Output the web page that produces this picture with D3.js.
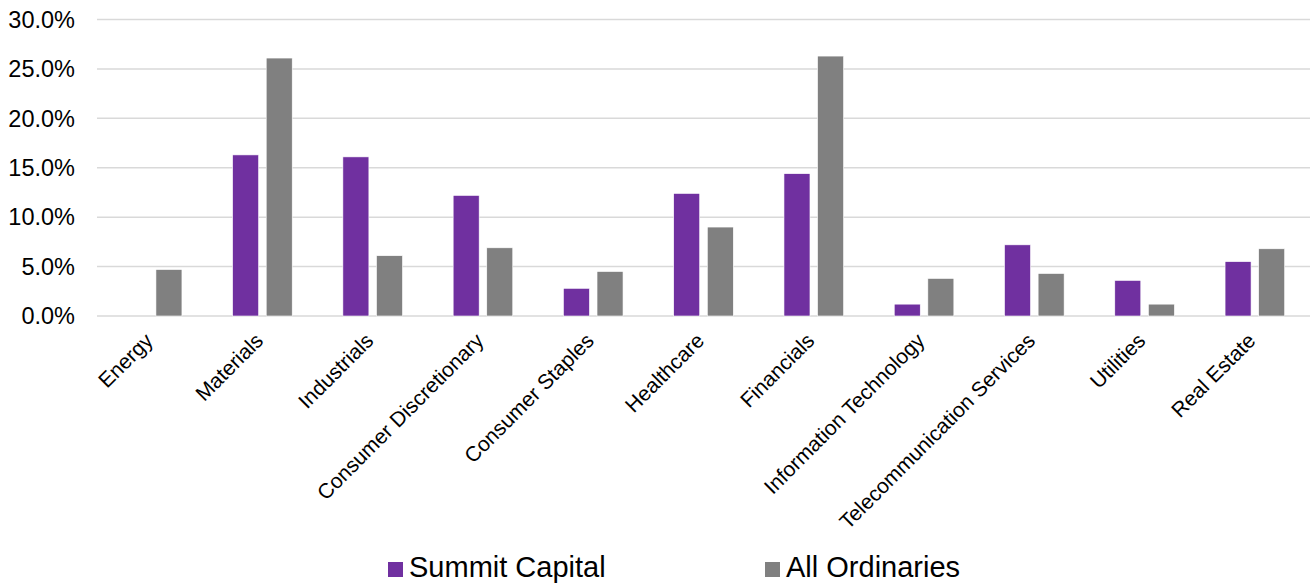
<!DOCTYPE html>
<html lang="en">
<head>
    <meta charset="utf-8">
    <title>Sector Allocation</title>
    <style>
        body {
            margin: 0;
            padding: 0;
            background: #fff;
            font-family: "Liberation Sans", Arial, sans-serif;
        }
        #chart svg {
            display: block;
        }
    </style>
    <script src="https://d3js.org/d3.v7.min.js"></script>
</head>
<body>
    <div id="chart"></div>

    <script>
        // Sector weights (%)
        const sectors = ['Energy', 'Materials', 'Industrials', 'Consumer Discretionary', 'Consumer Staples',
                         'Healthcare', 'Financials', 'Information Technology', 'Telecommunication Services',
                         'Utilities', 'Real Estate'];
        const seriesNames = ['Summit Capital', 'All Ordinaries'];
        const summitCapital = [0.0, 16.3, 16.1, 12.2, 2.8, 12.4, 14.4, 1.2, 7.2, 3.6, 5.5];
        const allOrdinaries = [4.7, 26.1, 6.1, 6.9, 4.5, 9.0, 26.3, 3.8, 4.3, 1.2, 6.8];
        const yTicks = [0, 5, 10, 15, 20, 25, 30];
        const colors = ['#7030A0', '#808080'];

        const width = 1312;
        const height = 587;
        const margin = {top: 19.5, right: 2, bottom: 271, left: 97};

        const svg = d3.select('#chart')
            .append('svg')
            .attr('width', width)
            .attr('height', height);

        const x0 = d3.scaleBand()
            .domain(sectors)
            .range([margin.left, width - margin.right])
            .padding(0);

        const x1 = d3.scaleBand()
            .domain(seriesNames)
            .range([0, x0.bandwidth()])
            .paddingInner(0.226)
            .paddingOuter(0.754);

        const y = d3.scaleLinear()
            .domain([0, 30])
            .range([height - margin.bottom, margin.top]);

        // gridlines
        svg.append('g')
            .selectAll('line')
            .data(yTicks)
            .enter()
            .append('line')
            .attr('x1', margin.left)
            .attr('x2', width - margin.right)
            .attr('y1', d => y(d))
            .attr('y2', d => y(d))
            .style('stroke', '#d9d9d9')
            .style('stroke-width', 1.5);

        // y tick labels
        svg.append('g')
            .selectAll('text')
            .data(yTicks)
            .enter()
            .append('text')
            .attr('x', 75)
            .attr('y', d => y(d))
            .attr('dy', '0.35em')
            .attr('text-anchor', 'end')
            .style('font-size', '23.5px')
            .style('fill', '#000')
            .text(d => d.toFixed(1) + '%');

        // bars
        const rows = sectors.map((s, i) => ({sector: s, values: [summitCapital[i], allOrdinaries[i]]}));

        const group = svg.append('g')
            .selectAll('g')
            .data(rows)
            .enter()
            .append('g')
            .attr('transform', d => `translate(${x0(d.sector)},0)`);

        group.selectAll('rect')
            .data(d => d.values.map((v, k) => ({name: seriesNames[k], value: v, k: k})))
            .enter()
            .filter(d => d.value > 0)
            .append('rect')
            .attr('x', d => x1(d.name))
            .attr('width', x1.bandwidth())
            .attr('y', d => y(d.value))
            .attr('height', d => y(0) - y(d.value))
            .style('fill', d => colors[d.k])
            .style('stroke', '#fff')
            .style('stroke-width', 0.6);

        // x labels, rotated
        svg.append('g')
            .selectAll('text')
            .data(sectors)
            .enter()
            .append('text')
            .attr('transform', d => `translate(${x0(d) + x0.bandwidth() / 2 + 2},342) rotate(-45)`)
            .attr('text-anchor', 'end')
            .style('font-size', '21px')
            .style('fill', '#000')
            .text(d => d);

        // legend
        const legendX = [388, 765];
        const legend = svg.append('g')
            .selectAll('g')
            .data(seriesNames)
            .enter()
            .append('g')
            .attr('transform', (d, i) => `translate(${legendX[i]},0)`);

        legend.append('rect')
            .attr('x', 0)
            .attr('y', 562)
            .attr('width', 15)
            .attr('height', 15)
            .style('fill', (d, i) => colors[i]);

        legend.append('text')
            .attr('x', 21)
            .attr('y', 577)
            .style('font-size', '29px')
            .style('fill', '#000')
            .text(d => d);
    </script>
</body>
</html>
